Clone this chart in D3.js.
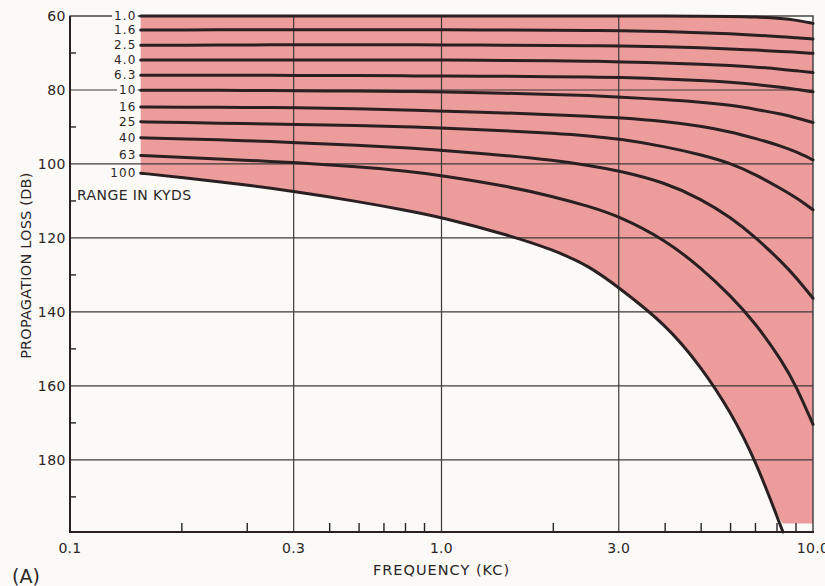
<!DOCTYPE html>
<html>
<head>
<meta charset="utf-8">
<script src="https://cdn.jsdelivr.net/npm/d3@7"></script>
<style>
  html, body { margin: 0; padding: 0; background: #fbfaf7; }
  svg { display: block; }
  text { font-family: "DejaVu Sans", "Liberation Sans", sans-serif; fill: #2b2526; }
</style>
</head>
<body>
<svg id="chart" width="825" height="586"></svg>
<script>
// Frequency samples (kc) shared by every range curve
const frequencies = [0.155, 0.2, 0.3, 0.4, 0.6, 0.8, 1, 1.5, 2, 2.5, 3, 4, 5, 6, 7, 8.3, 9, 10];

// Propagation loss (dB) for each range (kyds)
const rangeLabels = ["1.0", "1.6", "2.5", "4.0", "6.3", "10", "16", "25", "40", "63", "100"];
const loss_1_0 = [60, 60, 60, 60, 60, 60, 60, 60, 60, 60, 60, 60, 60.05, 60.1, 60.2, 60.7, 61.1, 62.0];
const loss_1_6 = [63.8, 63.8, 63.7, 63.7, 63.7, 63.7, 63.7, 63.8, 63.9, 63.9, 64.0, 64.2, 64.5, 64.8, 65.2, 65.6, 65.9, 66.2];
const loss_2_5 = [67.9, 67.9, 67.8, 67.8, 67.8, 67.8, 67.8, 67.9, 68.0, 68.0, 68.1, 68.3, 68.6, 68.9, 69.2, 69.6, 69.8, 70.1];
const loss_4_0 = [71.9, 71.9, 71.9, 71.9, 71.9, 71.9, 71.9, 72.0, 72.1, 72.2, 72.4, 72.7, 73.0, 73.4, 73.8, 74.4, 74.8, 75.3];
const loss_6_3 = [76.0, 76.0, 76.0, 76.1, 76.1, 76.2, 76.2, 76.3, 76.4, 76.5, 76.6, 77.0, 77.4, 77.9, 78.5, 79.3, 79.8, 80.5];
const loss_10  = [80.1, 80.1, 80.1, 80.2, 80.3, 80.4, 80.5, 80.9, 81.2, 81.5, 81.9, 82.6, 83.3, 84.1, 85.2, 86.6, 87.5, 88.8];
const loss_16  = [84.6, 84.7, 84.7, 84.8, 85.1, 85.4, 85.7, 86.2, 86.7, 87.1, 87.5, 88.5, 89.8, 91.3, 93.1, 95.3, 96.7, 98.9];
const loss_25  = [88.6, 88.8, 89.1, 89.3, 89.6, 89.9, 90.3, 91.0, 91.7, 92.4, 93.2, 95.3, 97.5, 99.8, 102.8, 107.0, 109.1, 112.4];
const loss_40  = [92.9, 93.2, 93.7, 94.2, 95.0, 95.6, 96.3, 97.7, 99.0, 100.4, 101.8, 105.0, 109.5, 114.4, 119.8, 126.8, 130.7, 136.3];
const loss_63  = [97.7, 98.2, 99.0, 99.6, 100.8, 101.9, 103.1, 106.0, 108.8, 111.5, 114.1, 120.5, 128.1, 135.6, 143.0, 153.6, 160.0, 170.4];
const loss_100 = [102.5, 103.6, 105.7, 107.4, 110.2, 112.5, 114.4, 119.1, 123.2, 127.6, 133.4, 143.2, 154.8, 167.0, 180.0, 199.5, null, null];
const lossSeries = [loss_1_0, loss_1_6, loss_2_5, loss_4_0, loss_6_3, loss_10, loss_16, loss_25, loss_40, loss_63, loss_100];

// Axis ticks
const freqGrid = [0.1, 0.4, 1, 3, 10];
const freqGridLabels = ["0.1", "0.3", "1.0", "3.0", "10.0"];
const freqMinor = [0.2, 0.3, 0.5, 0.6, 0.7, 0.8, 0.9, 2, 4, 5, 6, 7, 8, 9];
const lossGrid = [60, 80, 100, 120, 140, 160, 180];
const lossMinor = [70, 90, 110, 130, 150, 170, 190];
const lossMin = 60, lossMax = 199.5, shadeFloor = 197.2;

const svg = d3.select("#chart");
const x = d3.scaleLog().domain([0.1, 10]).range([70, 813]);
const y = d3.scaleLinear().domain([lossMin, lossMax]).range([16, 532]);

const ink = "#2a2022";
const gridInk = "#3d3a3a";
const paper = "#fbfaf7";

// Shaded band between the shortest and longest range
svg.append("clipPath").attr("id", "shadeClip")
  .append("rect")
  .attr("x", x(0.1)).attr("y", y(lossMin) - 2)
  .attr("width", x(10) - x(0.1) + 3).attr("height", y(shadeFloor) - y(lossMin) + 2);

const band = frequencies.map((f, i) => ({ f, top: loss_1_0[i], bottom: loss_100[i] == null ? lossMax : loss_100[i] }));
svg.append("path")
  .datum(band)
  .attr("clip-path", "url(#shadeClip)")
  .attr("fill", "#ec9c9a")
  .attr("d", d3.area()
    .curve(d3.curveBasis)
    .x(d => x(d.f))
    .y0(d => y(d.top))
    .y1(d => y(d.bottom)));

// Grid
const grid = svg.append("g").attr("stroke", gridInk).attr("stroke-width", 1.2);
grid.selectAll("line.h").data(lossGrid.slice(1)).join("line")
  .attr("x1", x(0.1)).attr("x2", x(10))
  .attr("y1", d => y(d)).attr("y2", d => y(d));
grid.selectAll("line.v").data(freqGrid.slice(1, -1)).join("line")
  .attr("y1", y(lossMin)).attr("y2", y(lossMax))
  .attr("x1", d => x(d)).attr("x2", d => x(d));

// Frame
svg.append("rect")
  .attr("x", x(0.1)).attr("y", y(lossMin))
  .attr("width", x(10) - x(0.1)).attr("height", y(lossMax) - y(lossMin))
  .attr("fill", "none").attr("stroke", gridInk).attr("stroke-width", 1.4);
svg.append("line").attr("x1", x(0.1)).attr("x2", x(0.1))
  .attr("y1", y(lossMin)).attr("y2", y(lossMax) + 1)
  .attr("stroke", ink).attr("stroke-width", 2);
svg.append("line").attr("x1", x(0.1)).attr("x2", x(10) + 1)
  .attr("y1", y(lossMax)).attr("y2", y(lossMax))
  .attr("stroke", ink).attr("stroke-width", 2);

// Minor ticks
svg.append("g").attr("stroke", ink).attr("stroke-width", 1.4)
  .selectAll("line").data(freqMinor).join("line")
  .attr("x1", d => x(d)).attr("x2", d => x(d))
  .attr("y1", y(lossMax)).attr("y2", y(lossMax) - 9);
svg.append("g").attr("stroke", ink).attr("stroke-width", 1.4)
  .selectAll("line").data(lossMinor).join("line")
  .attr("x1", x(0.1)).attr("x2", x(0.1) + 6)
  .attr("y1", d => y(d)).attr("y2", d => y(d));

// Range curves
const line = d3.line()
  .defined(d => d.v != null)
  .curve(d3.curveBasis)
  .x(d => x(d.f)).y(d => y(d.v));
svg.append("g")
  .selectAll("path").data(lossSeries).join("path")
  .attr("fill", "none").attr("stroke", ink).attr("stroke-width", 3)
  .attr("stroke-linecap", "round")
  .attr("d", s => line(frequencies.map((f, i) => ({ f, v: s[i] }))));

// Range labels at the start of each curve
const labelX = x(frequencies[0]) - 4;
const labels = svg.append("g");
rangeLabels.forEach((lab, i) => {
  const yy = y(lossSeries[i][0]);
  const t = labels.append("text")
    .attr("x", labelX).attr("y", yy)
    .attr("text-anchor", "end").attr("dominant-baseline", "central")
    .attr("font-size", 12).attr("letter-spacing", 1.2)
    .text(lab);
  const bb = t.node().getBBox();
  labels.insert("rect", "text")
    .attr("x", bb.x - 2).attr("y", yy - 5)
    .attr("width", bb.width + 3).attr("height", 10)
    .attr("fill", paper);
});
svg.append("text")
  .attr("x", x(0.1) + 7).attr("y", y(110) - 1)
  .attr("font-size", 14).attr("letter-spacing", 0.4)
  .text("RANGE IN KYDS");

// Axis labels
svg.append("g").selectAll("text").data(lossGrid).join("text")
  .attr("x", x(0.1) - 4).attr("y", d => y(d))
  .attr("text-anchor", "end").attr("dominant-baseline", "central")
  .attr("font-size", 14).attr("letter-spacing", 0.5)
  .text(d => d);
svg.append("g").selectAll("text").data(freqGrid).join("text")
  .attr("x", d => x(d)).attr("y", y(lossMax) + 21)
  .attr("text-anchor", "middle")
  .attr("font-size", 14).attr("letter-spacing", 0.3)
  .text((d, i) => freqGridLabels[i]);

svg.append("text")
  .attr("transform", `translate(${x(0.1) - 39},${y(127.5)}) rotate(-90)`)
  .attr("text-anchor", "middle")
  .attr("font-size", 14.5).attr("letter-spacing", 0.2)
  .text("PROPAGATION LOSS (DB)");
svg.append("text")
  .attr("x", x(1)).attr("y", 575)
  .attr("text-anchor", "middle")
  .attr("font-size", 14.5).attr("letter-spacing", 1)
  .text("FREQUENCY (KC)");
svg.append("text")
  .attr("x", 12).attr("y", 583)
  .attr("font-size", 19)
  .text("(A)");
</script>
</body>
</html>
